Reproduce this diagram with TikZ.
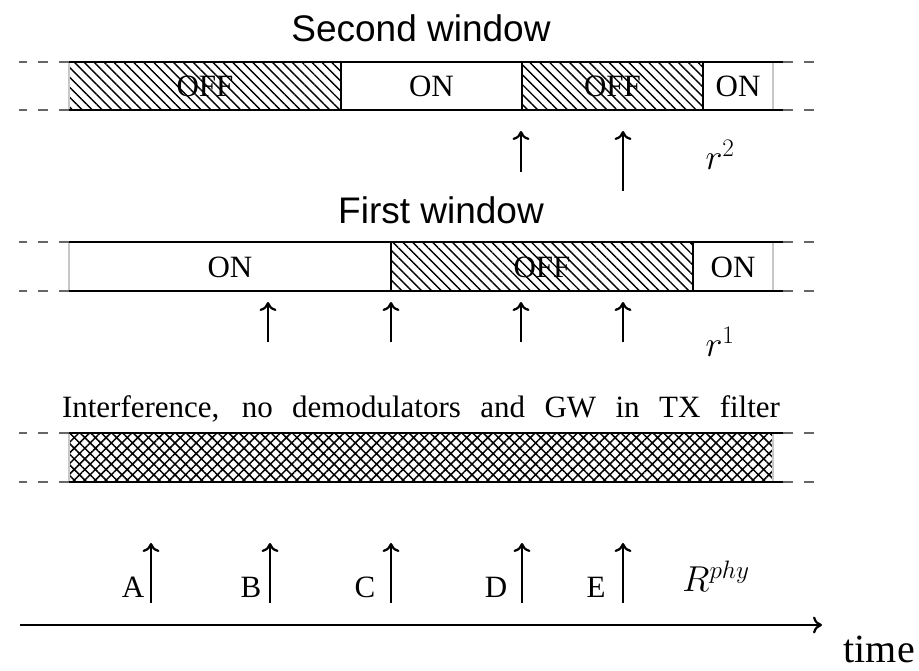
\RequirePackage{fix-cm}
\documentclass[tikz,border=0pt]{standalone}
\usepackage[no-math]{fontspec}
\setmainfont{Liberation Serif}
\newfontfamily\arialf{Liberation Sans}
\usetikzlibrary{patterns.meta,arrows.meta}
\begin{document}
\begin{tikzpicture}[x=1pt,y=-1pt,
  barline/.style={line width=1.8pt, black},
  sepline/.style={line width=1.5pt, black},
  edgeline/.style={line width=1.5pt, black!22},
  guide/.style={line width=1.8pt, black!60, dash pattern=on 10pt off 11pt},
  hatch/.style={pattern={Lines[angle=-45,distance=7pt,line width=1.4pt]}},
  xhatch/.style={pattern={Hatch[angle=45,distance=7.5pt,line width=1.5pt]}},
  lab/.style={font=\fontsize{31}{36}\selectfont, inner sep=0pt},
  mlab/.style={font=\fontsize{36}{42}\selectfont, inner sep=0pt},
  title/.style={font=\arialf\fontsize{37}{43}\selectfont, inner sep=0pt},
  up/.style={-{To[length=9pt,width=17pt]}, line width=2.2pt},
]
\useasboundingbox (0,0) rectangle (919,671);

% ---------- second window ----------
\node[title] (t2) at (421,28) {Second window};
\fill[hatch] (69,62) rectangle (341,110);
\fill[hatch] (522,62) rectangle (703,110);
\draw[barline] (69,62) -- (783,62);
\draw[barline] (69,110) -- (783,110);
\draw[sepline] (341,62) -- (341,110) (522,62) -- (522,110) (703,62) -- (703,110);
\draw[edgeline] (69,63) -- (69,109) (773,63) -- (773,109);
\draw[guide] (69,62) -- (19,62) (69,110) -- (19,110);
\draw[guide] (783,62) -- (825,62) (783,110) -- (825,110);
\node[lab] (w2a) at (205,86) {OFF};
\node[lab] (w2b) at (431.5,86) {ON};
\node[lab] (w2c) at (612.5,86) {OFF};
\node[lab] (w2d) at (738,86) {ON};

\coordinate (p1s) at (521,172); \coordinate (p1e) at (521,131);
\coordinate (p2s) at (623,191); \coordinate (p2e) at (623,131);
\draw[up] (p1s) -- (p1e);
\draw[up] (p2s) -- (p2e);
\node[mlab] (r2) at (720,155) {$r^2$};

% ---------- first window ----------
\node[title] (t1) at (441,210) {First window};
\fill[hatch] (391,242) rectangle (693,291);
\draw[barline] (69,242) -- (783,242);
\draw[barline] (69,291) -- (783,291);
\draw[sepline] (391,242) -- (391,291) (693,242) -- (693,291);
\draw[edgeline] (69,243) -- (69,290) (773,243) -- (773,290);
\draw[guide] (69,242) -- (19,242) (69,291) -- (19,291);
\draw[guide] (783,242) -- (825,242) (783,291) -- (825,291);
\node[lab] (w1a) at (230,267) {ON};
\node[lab] (w1b) at (542,267) {OFF};
\node[lab] (w1c) at (733,267) {ON};

\foreach \x [count=\i] in {268,391,521,623}{
  \coordinate (q\i s) at (\x,342); \coordinate (q\i e) at (\x,302);
  \draw[up] (q\i s) -- (q\i e);
}
\node[mlab] (r1) at (720,342) {$r^1$};

% ---------- physical layer ----------
\node[lab] (itf) at (421,409) {\makebox[718pt][s]{Interference, no demodulators and GW in TX filter}};
\fill[xhatch] (69,433) rectangle (773,482);
\draw[barline] (69,433) -- (783,433);
\draw[barline] (69,482) -- (783,482);
\draw[edgeline] (69,434) -- (69,481) (773,434) -- (773,481);
\draw[guide] (69,433) -- (19,433) (69,482) -- (19,482);
\draw[guide] (783,433) -- (825,433) (783,482) -- (825,482);

\foreach \x/\l/\lx [count=\i] in {151/A/133,270/B/251,391/C/365,522/D/496,623/E/596}{
  \coordinate (s\i s) at (\x,603); \coordinate (s\i e) at (\x,543);
  \draw[up] (s\i s) -- (s\i e);
  \node[lab] (L\i) at (\lx,587) {\l};
}
\node[mlab] (rphy) at (716,576) {$R^{phy}$};

% ---------- time axis ----------
\coordinate (ax0) at (20,625);
\coordinate (ax1) at (822,625);
\draw[-{To[length=9pt,width=17pt]}, line width=2.2pt] (ax0) -- (ax1);
\node[font=\fontsize{40}{46}\selectfont, inner sep=0pt, anchor=base east] (tm) at (915,662) {time};
\end{tikzpicture}
\end{document}
